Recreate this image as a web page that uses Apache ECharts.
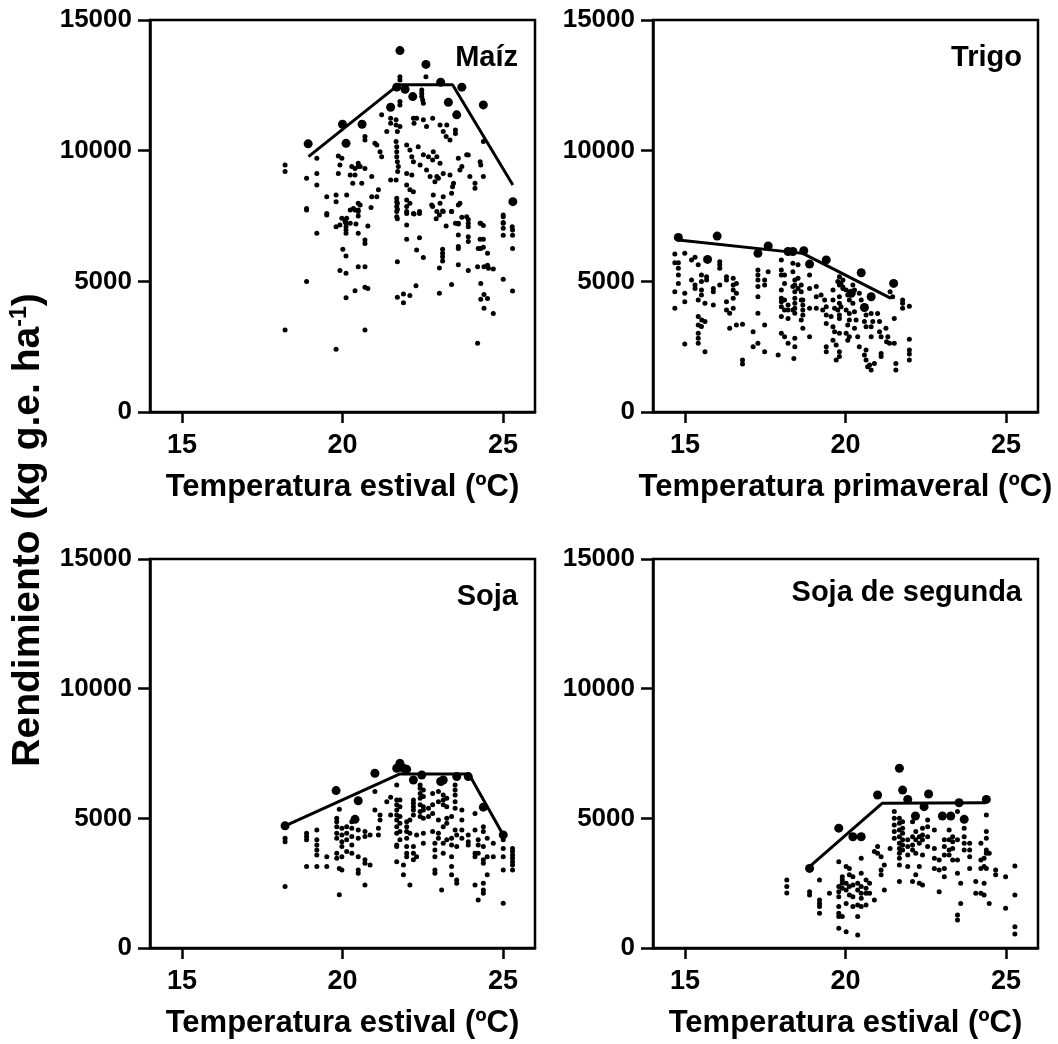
<!DOCTYPE html>
<html><head><meta charset="utf-8">
<script src="https://cdn.jsdelivr.net/npm/echarts@6/dist/echarts.min.js"></script>
<style>html,body{margin:0;padding:0;background:#fff}#c{width:1058px;height:1044px}</style>
</head><body><div id="c"></div>
<script>
const FONT = '"Liberation Sans", Arial, sans-serif';
const panelTitles = ['Maíz', 'Trigo', 'Soja', 'Soja de segunda'];
const xTitles = ['Temperatura estival (ºC)', 'Temperatura primaveral (ºC)', 'Temperatura estival (ºC)', 'Temperatura estival (ºC)'];
const xTicks = [15, 20, 25];
const yTicks = [0, 5000, 10000, 15000];

const maizBig = [[21.79,13830],[22.60,13300],[18.93,10260],[20.00,11010],[20.61,11010],[20.11,10280],[21.50,11660],[21.69,12430],[21.95,12350],[22.19,12070],[23.06,12620],[23.30,11850],[23.72,12430],[23.56,11370],[24.39,11750],[25.31,8050]];
const maizLine = [[18.94,9770],[21.74,12520],[23.43,12520],[25.31,8690]];
const maizSmall = [[18.21,9450],[18.21,9200],[21.79,12830],[21.79,12700],[22.60,12830],[22.47,12320],[22.47,12200],[22.47,12070],[22.5,11940],[22.52,11810],[21.79,11880],[21.79,11750],[21.50,11240],[21.50,11050],[21.67,11180],[21.67,10980],[21.79,10920],[21.71,10730],[21.38,10730],[21.22,11370],[22.21,11240],[22.31,11240],[22.23,11050],[22.52,11180],[22.81,11240],[22.62,10920],[23.04,10980],[23.25,10980],[23.14,10730],[23.52,10790],[23.52,10660],[23.23,10540],[23.35,10410],[23.92,9830],[20.70,10540],[20.70,10410],[21.01,10280],[21.07,10220],[21.17,9960],[21.22,9770],[19.87,9800],[19.98,9710],[19.92,9450],[19.87,9130],[19.20,9710],[19.20,9130],[19.20,8690],[18.88,8940],[20.29,9390],[20.39,9320],[20.49,9520],[20.49,9390],[20.55,9390],[20.70,9320],[20.24,9070],[20.39,9070],[20.91,9010],[20.60,8750],[20.32,8750],[21.67,10350],[21.69,10150],[21.69,9960],[21.69,9770],[21.71,9580],[21.74,9390],[21.72,9200],[21.67,8880],[21.50,8880],[22.00,10220],[22.10,10030],[22.16,9770],[22.21,9580],[22.00,9130],[22.16,9070],[22.00,8690],[22.10,8500],[22.21,8430],[22.36,10150],[22.52,9840],[22.68,9770],[22.83,9960],[22.81,9640],[22.94,9770],[23.04,9520],[22.94,9010],[22.99,8940],[22.42,9450],[22.62,9260],[22.73,9010],[22.88,8810],[23.14,9130],[23.35,9070],[23.46,8750],[23.43,8620],[23.61,9710],[23.72,9390],[23.87,9840],[23.66,9260],[23.40,8370],[23.97,9010],[24.13,8750],[24.13,8560],[24.29,9580],[24.31,9450],[24.39,9010],[24.39,10350],[21.07,8240],[21.12,8500],[20.91,8240],[20.55,7920],[20.49,7670],[20.39,7730],[20.24,7220],[20.08,7280],[20.13,7410],[19.92,7160],[19.80,8300],[19.80,8050],[20.13,8300],[19.51,8240],[19.51,7600],[18.88,7790],[21.69,8180],[21.69,8050],[21.69,7860],[21.69,7670],[21.69,7470],[22.00,8110],[22.00,7860],[22.00,7600],[22.21,7600],[22.40,7600],[22.83,8300],[22.94,7670],[23.14,7670],[23.40,7670],[23.66,7990],[23.87,7470],[23.92,7220],[23.61,7220],[24.29,7220],[25.01,7470],[25.01,7220],[25.29,7090],[22.78,7920],[23.04,7990],[23.14,8240],
[18.88,7730],[19.20,6840],[18.88,4990],[18.21,3140],[19.80,2400],[19.51,7540],[19.80,7090],[19.98,7410],[20.08,7350],[20.11,7220],[20.11,7090],[20.11,6960],[20.11,6840],[20.24,7730],[20.34,7790],[20.49,7990],[20.49,7730],[20.49,7500],[20.42,7190],[20.49,6840],[20.70,6580],[20.70,6450],[20.79,7120],[20.89,7830],[20.01,6230],[20.11,5970],[19.92,5410],[20.11,5310],[20.49,5560],[20.70,5560],[20.39,4640],[20.11,4370],[20.70,4770],[20.79,4730],[20.70,3140],[21.71,7990],[21.71,7760],[21.71,7390],[21.71,5750],[21.71,4390],[21.90,4520],[21.90,4180],[22.10,4460],[22.00,7670],[22.00,7160],[22.00,6610],[22.10,7990],[22.23,7580],[22.40,7670],[22.31,6200],[22.40,6670],[22.52,5910],[22.29,4830],[22.81,7860],[22.92,7390],[23.02,7540],[23.12,7690],[23.23,7120],[23.40,7670],[23.61,7920],[23.72,7450],[23.52,7220],[23.61,7190],[23.61,6770],[23.61,6330],[23.61,6260],[23.61,5630],[23.92,7370],[23.92,7090],[23.92,6710],[23.92,6520],[23.92,5410],[23.12,6230],[23.12,6070],[23.12,5940],[23.12,5780],[23.02,5510],[23.40,4880],[23.02,4540],[24.31,7220],[24.39,7140],[24.29,6610],[24.39,6610],[24.23,6260],[24.31,6260],[24.39,6300],[24.52,6070],[24.21,5560],[24.41,5560],[24.52,5620],[24.55,5500],[24.70,5470],[24.31,4920],[24.41,4500],[24.52,4340],[24.31,4310],[24.41,3970],[24.70,3770],[24.21,2630],[25.01,7540],[25.01,7250],[25.01,7030],[25.01,6760],[25.01,5080],[25.30,6960],[25.30,6760],[25.30,6260],[25.30,4630]];

const trigoBig = [[14.79,6680],[16.00,6730],[15.70,5840],[17.59,6350],[17.27,6070],[18.21,6140],[18.36,6140],[18.70,6170],[18.88,5660],[19.40,5820],[20.49,5330],[21.50,4920],[20.80,4410],[20.18,4540],[20.59,4000]];
const trigoLine = [[14.79,6580],[18.67,6070],[21.42,4350]];
const trigoSmall = [[14.68,6050],[14.68,5710],[14.68,4600],[14.68,3970],[14.79,5710],[14.79,5500],[14.79,5240],[14.79,4920],[14.99,6070],[14.99,4540],[14.99,4220],[14.99,2600],[15.20,5820],[15.20,5050],[15.31,5920],[15.31,4860],[15.31,4730],[15.41,5630],[15.41,4290],[15.41,3650],[15.41,3330],[15.41,3010],[15.41,2820],[15.41,2630],[15.51,5240],[15.51,4990],[15.51,4670],[15.51,4480],[15.52,3520],[15.51,3270],[15.62,4160],[15.62,3460],[15.62,2310],[15.67,5180],[15.67,5050],[15.88,4730],[15.88,4600],[15.88,4090],[16.08,5750],[16.08,5630],[16.08,5500],[16.08,4860],[16.29,5180],[16.29,5050],[16.29,4220],[16.29,3900],[16.39,3780],[16.39,3200],[16.50,5120],[16.50,4860],[16.50,4670],[16.50,4350],[16.50,3970],[16.60,4920],[16.60,4540],[16.60,3330],[16.79,3360],[16.79,1990],[16.79,1840],[17.12,3070],[17.12,2500],[17.27,5430],[17.27,5240],[17.27,5050],[17.27,4800],[17.27,4410],[17.27,3780],[17.27,2630],[17.48,5050],[17.48,4860],[17.48,3330],[17.48,2310],[17.59,5370],[17.90,2180],[18.00,5820],[18.00,5430],[18.00,5240],[18.00,4670],[18.00,4350],[18.00,4220],[18.00,4030],[18.00,3650],[18.00,3010],[18.10,5240],[18.10,4920],[18.10,4290],[18.10,3900],[18.10,2880],[18.21,4090],[18.21,3900],[18.21,3580],[18.21,2630],[18.36,5690],[18.36,5370],[18.36,4800],[18.36,3900],[18.42,5050],[18.42,4860],[18.42,4600],[18.42,4350],[18.42,4160],[18.42,3970],[18.42,3780],[18.42,2820],[18.42,2500],[18.52,5630],[18.52,5120],[18.52,4730],[18.62,4860],[18.62,4600],[18.62,4290],[18.62,3520],[18.67,4290],[18.67,4090],[18.67,3900],[18.67,3710],[18.67,3200],[18.88,5240],[18.88,4730],[18.88,3970],[18.88,2880],[19.09,4800],[19.09,4410],[19.09,3970],[18.39,2050],
[19.24,4480],[19.35,4290],[19.40,4030],[19.29,3900],[19.40,3710],[19.61,4670],[19.61,4290],[19.66,3970],[19.55,3650],[19.40,3390],[19.61,3260],[19.66,3070],[19.61,2750],[19.71,2560],[19.71,1990],[19.40,2500],[19.40,2310],[19.76,4990],[19.86,4920],[19.92,4730],[19.81,4410],[19.81,4160],[19.86,4030],[19.76,3900],[19.81,3710],[19.81,3580],[19.81,3010],[19.81,2310],[19.81,2120],[20.02,4670],[20.07,4480],[20.12,4290],[20.02,3900],[20.12,3770],[20.12,3520],[20.07,3330],[20.02,3010],[20.12,2880],[20.07,2750],[20.23,4860],[20.28,4670],[20.23,4160],[20.28,3840],[20.33,3520],[20.28,3200],[20.43,4540],[20.49,4290],[20.38,2880],[20.43,2500],[20.59,4030],[20.64,3710],[20.59,3460],[20.64,3260],[20.64,2370],[20.59,2180],[20.64,1990],[20.69,1730],[20.75,1800],[20.80,1610],[20.80,3770],[20.85,3460],[20.80,3260],[20.80,2880],[20.90,1860],[21.00,3770],[21.06,3460],[21.06,3070],[21.11,2880],[21.11,2240],[21.11,2120],[21.26,3200],[21.32,2880],[21.28,2690],[21.37,2630],[21.39,4600],[21.47,4410],[21.52,3580],[21.52,2630],[21.57,1860],[21.57,1610],[21.78,4290],[21.78,4160],[21.78,3970],[21.99,4050],[21.99,2780],[21.99,2370],[21.99,2220],[21.99,1990],[19.81,5180],[19.92,5050],[19.81,4860],[19.92,4780]];

const sojaBig = [[18.21,4710],[19.80,6070],[20.49,5680],[20.39,4960],[21.01,6740],[21.79,7120],[21.69,6930],[21.90,6930],[22.00,6890],[22.21,6480],[22.47,6670],[23.06,6420],[23.14,6480],[23.56,6610],[23.92,6610],[24.39,5430],[25.01,4360]];
const sojaLine = [[18.21,4710],[21.79,6710],[23.94,6710],[25.01,4360]];
const sojaSmall = [[18.21,4230],[18.21,4100],[18.21,2370],[18.88,4420],[18.88,4300],[18.88,4170],[18.88,3140],[19.20,4550],[19.20,4170],[19.20,3970],[19.20,3780],[19.20,3590],[19.20,3140],[19.51,3520],[19.51,3140],[19.82,5000],[19.82,4870],[19.82,4680],[19.82,4420],[19.82,4230],[19.82,3650],[19.82,3460],[19.90,5350],[19.90,2050],[19.90,3070],[19.98,4620],[19.98,4360],[19.98,4100],[19.98,3910],[19.98,3520],[19.98,3010],[20.13,4680],[20.13,4420],[20.13,4170],[20.13,3720],[20.29,4870],[20.29,4620],[20.29,4300],[20.29,3970],[20.29,3650],[20.49,4550],[20.49,4230],[20.49,3520],[20.49,3010],[20.49,2880],[20.70,4490],[20.70,4300],[20.70,3400],[20.70,3270],[20.70,2430],[20.86,4360],[20.86,3200],[21.01,6030],[21.01,5320],[21.12,4620],[21.12,4360],[21.17,5130],[21.17,4940],[21.38,5640],[21.50,5810],[21.50,5130],[21.69,6290],[21.69,5710],[21.69,5520],[21.69,5320],[21.69,5130],[21.69,4940],[21.69,4680],[21.69,4420],[21.69,3970],[21.69,3910],[21.69,3330],[21.79,5710],[21.79,5450],[21.79,5070],[21.79,4810],[21.79,4490],[21.79,4170],[21.90,3200],[21.90,2820],[22.00,4870],[22.00,4680],[22.00,4490],[22.00,4230],[22.00,3910],[22.00,3650],[22.00,3520],[22.10,4940],[22.10,4420],[22.10,2430],[22.21,5710],[22.21,5580],[22.21,5450],[22.21,5320],[22.21,5130],[22.21,3910],[22.21,3650],[22.21,3400],[22.31,4360],[22.31,3520],[22.42,6290],[22.42,6160],[22.42,5960],[22.42,5770],[22.42,5520],[22.42,5260],[22.42,5070],[22.52,6090],[22.52,5840],[22.52,5450],[22.52,5320],[22.52,5000],[22.52,4420],[22.52,4040],[22.68,5390],[22.68,5070],[22.81,5960],[22.81,5520],[22.81,5190],[22.81,4490],[22.88,4040],[22.88,3780],[22.88,3520],[22.88,3010],[22.88,2880],[22.99,6030],[22.99,5640],[22.99,4940],[22.99,4420],[22.99,4230],[23.09,2240],[23.14,5900],[23.14,5710],[23.14,5520],[23.14,4680],[23.14,4040],[23.14,3650],[23.25,5770],[23.25,5450],[23.25,5000],[23.25,4810],[23.25,4170],[23.40,5070],[23.40,4230],[23.40,3970],[23.40,3520],[23.40,3140],[23.40,2820],[23.51,6290],[23.51,6090],[23.51,5900],[23.51,5640],[23.51,5390],[23.51,4550],[23.56,4360],[23.56,3910],[23.56,2620],[23.56,2500],[23.72,5320],[23.72,4940],[23.72,4550],[23.72,4230],[23.92,4360],[23.92,4100],[23.92,3970],[24.13,5190],[24.13,4550],[24.13,3650],[24.13,3520],[24.13,2430],[24.23,4170],[24.23,3970],[24.23,3650],[24.23,1850],[24.39,4680],[24.39,4490],[24.39,3910],[24.39,3400],[24.39,3270],[24.39,2500],[24.39,2240],[24.39,2110],[24.51,4230],[24.51,3520],[24.51,2820],[24.70,4040],[24.70,3520],[25.01,4170],[25.01,3840],[25.01,3520],[25.01,3010],[25.01,1730],[25.30,3840],[25.30,3720],[25.30,3590],[25.30,3460],[25.30,3330],[25.30,3200],[25.30,3010]];

const soja2Big = [[18.88,3070],[19.79,4620],[20.23,4290],[20.49,4290],[21.00,5900],[21.68,6930],[21.78,6090],[21.94,5730],[22.59,5940],[22.45,5450],[22.18,5090],[23.02,5090],[23.28,5090],[23.54,5600],[23.70,4960],[24.39,5730]];
const soja2Line = [[18.88,3140],[21.14,5580],[24.37,5600]];
const soja2Small = [[18.17,2620],[18.17,2370],[18.17,2120],[18.88,2170],[18.88,2040],[19.19,2620],[19.19,1850],[19.19,1720],[19.19,1600],[19.19,1340],[19.50,2110],[19.79,3330],[19.79,2370],[19.79,2170],[19.79,1980],[19.79,1600],[19.79,1340],[19.79,1210],[19.79,760],[19.90,2750],[19.90,2620],[19.90,2500],[19.90,2300],[19.90,1210],[20.02,3140],[20.02,2500],[20.02,2240],[20.02,1720],[20.02,630],[20.12,3070],[20.12,2820],[20.12,2370],[20.12,2040],[20.23,2750],[20.23,2430],[20.23,1980],[20.23,1600],[20.38,2500],[20.38,2240],[20.38,1660],[20.38,1210],[20.38,500],[20.49,3460],[20.49,2880],[20.49,2370],[20.49,2110],[20.49,1920],[20.49,1600],[20.64,2620],[20.64,2300],[20.64,2110],[20.64,1660],[20.75,2500],[20.75,2110],[20.90,3720],[20.90,1850],[21.00,3910],[21.00,3650],[21.11,3520],[21.11,3010],[21.11,2820],[21.21,3200],[21.21,2240],[21.39,3840],[21.52,5260],[21.52,5000],[21.52,4740],[21.52,4490],[21.52,4230],[21.68,5000],[21.68,4810],[21.68,4550],[21.68,4290],[21.68,4040],[21.68,3840],[21.68,3650],[21.68,3460],[21.68,3200],[21.68,2560],[21.78,4870],[21.78,4620],[21.78,4420],[21.78,4170],[21.78,3970],[21.78,3780],[21.94,4170],[21.94,3910],[21.94,3590],[21.94,3140],[22.09,4870],[22.09,4290],[22.09,3970],[22.09,3780],[22.09,2560],[22.19,4490],[22.19,4170],[22.19,3650],[22.19,2820],[22.30,4290],[22.30,4040],[22.30,3140],[22.30,2500],[22.40,4620],[22.40,4360],[22.40,4170],[22.40,3590],[22.40,2430],[22.56,4940],[22.56,4680],[22.56,4290],[22.56,3910],[22.77,4550],[22.77,3840],[22.77,3460],[22.77,3070],[22.92,3390],[22.92,3010],[22.92,2170],[23.08,4170],[23.08,3910],[23.08,3590],[23.08,3070],[23.08,2750],[23.23,4550],[23.23,4170],[23.23,3780],[23.23,3590],[23.34,4290],[23.34,4100],[23.34,3840],[23.34,3390],[23.49,5260],[23.49,4170],[23.49,3390],[23.49,2880],[23.49,1270],[23.49,1080],[23.59,2500],[23.59,1720],[23.70,4620],[23.70,4290],[23.70,4040],[23.70,3780],[23.87,4040],[23.87,3780],[23.87,3520],[23.87,3070],[24.06,2560],[24.06,2110],[24.22,4040],[24.22,3390],[24.22,3070],[24.22,2110],[24.32,3460],[24.32,3140],[24.32,2500],[24.32,2040],[24.39,5130],[24.39,4490],[24.39,4230],[24.39,3780],[24.39,3650],[24.39,3070],[24.48,3650],[24.48,1720],[24.68,3010],[24.68,2820],[24.99,2750],[24.99,1530],[25.28,3160],[25.28,2040],[25.28,820],[25.28,540]];

const panels = [
  {small: maizSmall, big: maizBig, line: maizLine},
  {small: trigoSmall, big: trigoBig, line: trigoLine},
  {small: sojaSmall, big: sojaBig, line: sojaLine},
  {small: soja2Small, big: soja2Big, line: soja2Line}
];

const grids = [
  {left: 150, top: 20, width: 385, height: 392},
  {left: 653, top: 20, width: 385, height: 392},
  {left: 150, top: 559, width: 385, height: 389},
  {left: 653, top: 559, width: 385, height: 389}
];
const titlePos = [
  {right: 540, top: 43}, {right: 36, top: 43}, {right: 540, top: 582}, {right: 36, top: 578}
];

const option = {
  backgroundColor: '#fff',
  animation: false,
  textStyle: {fontFamily: FONT},
  title: panelTitles.map((t, i) => Object.assign({
    text: t, padding: 0,
    textStyle: {fontFamily: FONT, fontSize: 29, fontWeight: 'bold', color: '#000'}
  }, titlePos[i])),
  grid: grids.map(g => Object.assign({show: true, borderColor: '#000', borderWidth: 2.5, backgroundColor: 'transparent'}, g)),
  xAxis: grids.map((g, i) => ({
    type: 'value', gridIndex: i, min: 14, max: 26,
    name: xTitles[i], nameLocation: 'middle', nameGap: 60,
    nameTextStyle: {fontFamily: FONT, fontSize: 31, fontWeight: 'bold', color: '#000'},
    axisLine: {show: true, onZero: false, lineStyle: {color: '#000', width: 2.5}},
    axisTick: {show: true, length: 11, inside: false, customValues: xTicks, lineStyle: {color: '#000', width: 2.5}},
    axisLabel: {customValues: xTicks, margin: 20, fontFamily: FONT, fontSize: 27, fontWeight: 'bold', color: '#000'},
    splitLine: {show: false}
  })),
  yAxis: grids.map((g, i) => ({
    type: 'value', gridIndex: i, min: 0, max: 15000, interval: 5000,
    axisLine: {show: true, onZero: false, lineStyle: {color: '#000', width: 2.5}},
    axisTick: {show: true, length: 12, customValues: yTicks, lineStyle: {color: '#000', width: 2.5}},
    axisLabel: {customValues: yTicks, formatter: v => String(v), margin: 18, fontFamily: FONT, fontSize: 26, fontWeight: 'bold', color: '#000'},
    splitLine: {show: false}
  })),
  graphic: [{
    type: 'text', x: 28, y: 530, rotation: Math.PI / 2,
    style: {
      text: '{a|Rendimiento (kg g.e. ha}{s|-1}{a|)}',
      align: 'center', verticalAlign: 'middle',
      rich: {
        a: {fontFamily: FONT, fontSize: 39, fontWeight: 'bold', fill: '#000', color: '#000', verticalAlign: 'bottom', lineHeight: 40},
        s: {fontFamily: FONT, fontSize: 23, fontWeight: 'bold', fill: '#000', color: '#000', verticalAlign: 'top', lineHeight: 40}
      }
    }
  }],
  series: []
};

panels.forEach((p, i) => {
  option.series.push({type: 'scatter', xAxisIndex: i, yAxisIndex: i, data: p.small, symbol: 'circle', symbolSize: 5, itemStyle: {color: '#000', opacity: 1}, z: 3});
  option.series.push({type: 'scatter', xAxisIndex: i, yAxisIndex: i, data: p.big, symbol: 'circle', symbolSize: 9, itemStyle: {color: '#000', opacity: 1}, z: 4});
  option.series.push({type: 'line', xAxisIndex: i, yAxisIndex: i, data: p.line, symbol: 'none', lineStyle: {color: '#000', width: 3}, z: 5});
});

const chart = echarts.init(document.getElementById('c'), null, {renderer: 'canvas'});
chart.setOption(option);
</script></body></html>
